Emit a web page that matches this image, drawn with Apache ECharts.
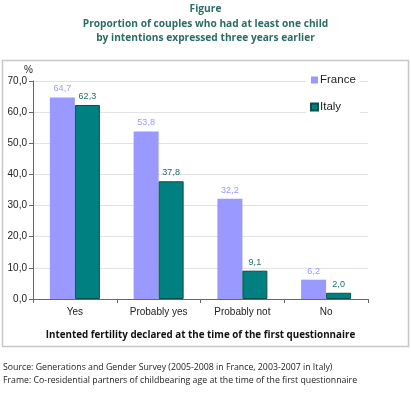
<!DOCTYPE html>
<html>
<head>
<meta charset="utf-8">
<script src="https://cdn.jsdelivr.net/npm/echarts@6/dist/echarts.min.js"></script>
<style>
  html, body { margin: 0; padding: 0; background: #fff; }
  #chart { width: 411px; height: 397px; }
</style>
</head>
<body>
<div id="chart"></div>
<script>
var categories = ['Yes', 'Probably yes', 'Probably not', 'No'];
var france = [64.7, 53.8, 32.2, 6.2];
var italy = [62.3, 37.8, 9.1, 2.0];
var yTicks = { min: 0, max: 70, interval: 10 };

var chartDom = document.getElementById('chart');
var myChart = echarts.init(chartDom);

function fmt(v) {
  return v.toFixed(1).replace('.', ',');
}

var option = {
  animation: false,
  textStyle: { fontFamily: 'Liberation Sans' },
  title: {
    text: 'Figure\nProportion of couples who had at least one child\nby intentions expressed three years earlier',
    left: 'center',
    top: -3,
    textStyle: {
      fontFamily: 'Open Sans',
      fontSize: 10.2,
      fontWeight: 'bold',
      color: '#2b6e60',
      lineHeight: 14.5
    }
  },
  legend: {
    orient: 'vertical',
    left: 306,
    top: 72,
    itemWidth: 7,
    itemHeight: 7,
    itemGap: 15,
    icon: 'rect',
    backgroundColor: '#fff',
    padding: [2, 4],
    textStyle: { fontSize: 11.5, color: '#222', padding: [0, 0, 0, -3] },
    data: ['France', 'Italy']
  },
  grid: { left: 33, right: 43, top: 81, bottom: 98, containLabel: false },
  xAxis: {
    type: 'category',
    data: categories,
    axisLine: { lineStyle: { color: '#666' } },
    axisTick: { show: true, alignWithLabel: false, length: 4, lineStyle: { color: '#666' } },
    axisLabel: { color: '#222', fontSize: 10, margin: 8 },
    name: 'Intented fertility declared at the time of the first questionnaire',
    nameLocation: 'middle',
    nameGap: 31,
    nameTextStyle: { fontFamily: 'Open Sans', fontWeight: 'bold', fontSize: 9.8, color: '#111' }
  },
  yAxis: {
    type: 'value',
    min: yTicks.min,
    max: yTicks.max,
    interval: yTicks.interval,
    name: '%',
    nameLocation: 'end',
    nameGap: 6,
    nameTextStyle: { color: '#222', fontSize: 10, align: 'right', padding: [0, 0, 0, 0] },
    axisLine: { show: true, lineStyle: { color: '#666' } },
    axisTick: { show: true, length: 4, lineStyle: { color: '#666' } },
    axisLabel: { color: '#222', fontSize: 10, margin: 6, formatter: fmt },
    splitLine: { lineStyle: { color: '#e2e2e2' } }
  },
  series: [
    {
      name: 'France',
      type: 'bar',
      data: france,
      barWidth: 25,
      barGap: '0%',
      itemStyle: { color: '#9999ff' },
      label: {
        show: true, position: 'top', distance: 4, fontSize: 9,
        color: '#9999ff', formatter: function (p) { return fmt(p.value); }
      }
    },
    {
      name: 'Italy',
      type: 'bar',
      data: italy,
      barWidth: 25,
      barGap: '0%',
      itemStyle: { color: '#008080', borderColor: '#0b4f4a', borderWidth: 1 },
      label: {
        show: true, position: 'top', distance: 4, fontSize: 9,
        color: '#1d6f67', formatter: function (p) { return fmt(p.value); }
      }
    }
  ],
  graphic: [
    {
      type: 'rect',
      shape: { x: 2.5, y: 60.5, width: 406, height: 286 },
      style: { fill: 'none', stroke: '#c8c8c8', lineWidth: 1.5 },
      z: -1
    },
    {
      type: 'text',
      left: 3,
      top: 361,
      style: {
        text: 'Source: Generations and Gender Survey (2005-2008 in France, 2003-2007 in Italy)\nFrame: Co-residential partners of childbearing age at the time of the first questionnaire',
        fontFamily: 'Open Sans',
        fontSize: 8.75,
        lineHeight: 13,
        fill: '#222'
      }
    }
  ]
};

option && myChart.setOption(option);
</script>
</body>
</html>
